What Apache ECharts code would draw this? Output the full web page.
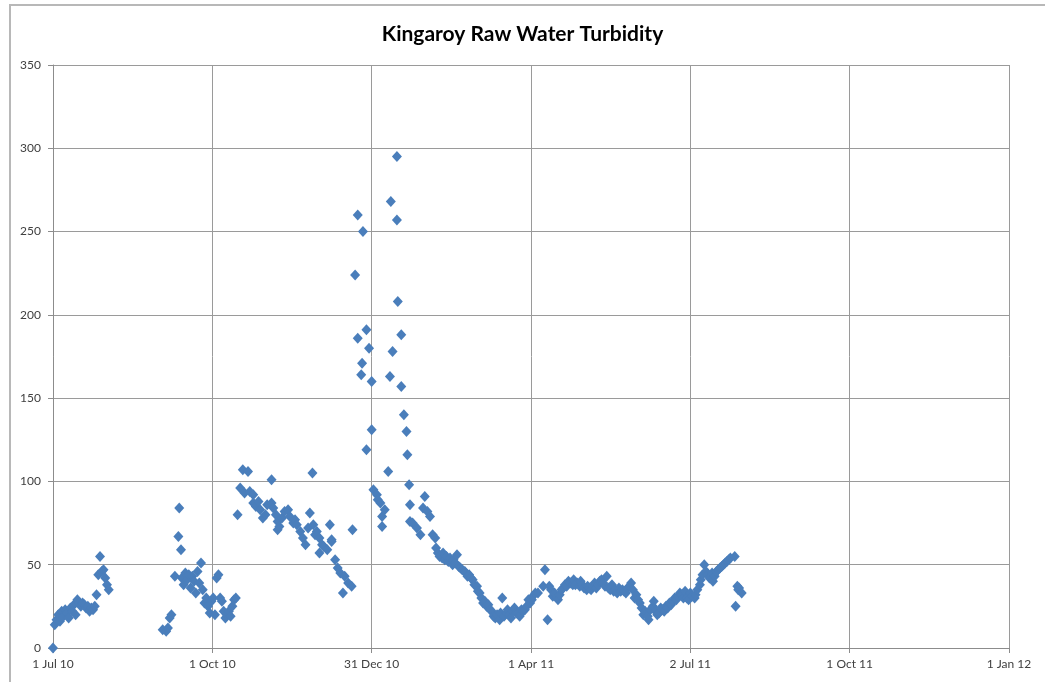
<!DOCTYPE html>
<html>
<head>
<meta charset="utf-8">
<script src="https://cdn.jsdelivr.net/npm/echarts@6/dist/echarts.min.js"></script>
<style>
html,body{margin:0;padding:0;background:#fff;}
#chart{width:1045px;height:682px;}
</style>
</head>
<body>
<div id="chart"></div>
<script>
// Days since 1 Jul 2010 and raw water turbidity (NTU)
const days = [
  0,1,2,3,4,5,6,7,8,9,10,11,12,13,14,15,16,17,18,19,20,21,22,23,24,25,26,27,28,29,30,31,32,
  63,65,66,67,68,70,72,72.5,73.5,74,75,76,77,78,79,80,81,82,83,84,85,86,87,88,89,90,91,92,93,94,95,96,97,98,99,100,101,102,103,104,105,
  106,107.5,109,110,112,113,115,115,116.5,118,119,120.5,122,123,125.5,125.5,126.5,128,129,129,130,131.5,133,135,136,138,139,140,142,143.5,145,146.5,147.5,149,149.5,150.5,151.5,153,153,154.5,155.5,157.5,159,160,160,162,163.5,165,166.5,167.5,169.5,171.5,172,
  173.5,175,175,177,177.5,178,180,180,181.5,183,183,184,186,186.5,188,189,189,190.5,192.5,193.5,194,195,197.5,197.5,198,200,200,201.5,203,203.5,204.5,205,205,
  206.5,209,211,212.5,213.5,215,216.5,218,219.5,220,221,222,223.5,224,225,226,227,228,229.5,230,231,232,233,234,235,236.5,237,238,239,240,241,242,243.5,244,245,246,247,248,249,250,251,252,253,254,255,256.5,257,258,259,260.5,261,262,263,264,265,266,267,268,269,270,271,272,273,274,275,275.5,277,278.5,281.5,282.5,
  284,285,286,287,288,289.5,290,291,292,293,294,295,296,297,298.5,299,300,301,302.5,303,304,305,306.5,307,308,309,310,311,312,313,314,315,316,317,318,319,320,321,322,323,324,325,326,327,328,329,330,331,332,333,334,335,336,337,338,339,340,341.5,342,343,344.5,345,346,347,348,349,350,351,352,353,354,355,356,357,358,359,360,361,362,363,364,365,366,367,368.5,369,370,371.5,372,373,374,375,376,377,378.5,379,380,381,382,383,384,385,386,387,388,389,391.5,392,393,393.5,394,395.5
];
const turbidity = [
  0,14,17,20,16,22,19,23,21,18,24,22,26,20,29,27,25,27,26,24,25,22,24,23,25,32,44,55,46,47,42,38,35,
  11,10,12,18,20,43,67,84,59,42,38,45,41,44,36,43,40,33,46,39,51,35,27,30,25,21,28,30,20,42,44,30,28,22,18,20,22,19,25,29,30,
  80,96,107,93,106,94,92,87,85,88,83,78,80,86,101,87,84,80,76,71,73,78,82,83,79,75,77,74,70,66,62,72,81,105,74,68,70,66,57,62,61,59,74,64,65,53,48,45,33,43,39,37,71,
  224,260,186,164,171,250,191,119,180,160,131,95,92,89,87,73,79,83,106,163,268,178,295,257,208,188,157,140,130,116,98,86,76,
  75,72,68,84,91,82,79,68,66,60,57,55,54,57,53,55,52,54,50,53,51,56,49,48,47,46,45,43,44,42,41,38,37,34,33,30,27,28,25,26,23,22,19,18,20,17,21,30,19,21,23,20,18,22,24,21,21,19,23,22,23,25,29,27,29,31,33,33,37,47,17,
  37,35,31,33,30,29,32,35,36,38,37,40,39,38,41,38,39,37,40,38,36,35,37,36,35,37,39,36,38,40,41,39,37,43,36,35,38,34,35,33,36,34,35,34,33,36,37,39,35,30,32,29,27,24,20,22,19,17,23,25,28,22,20,21,24,23,22,25,24,27,26,28,30,29,31,33,32,30,34,30,29,33,31,30,32,35,38,41,44,50,46,44,42,45,40,43,46,47,48,49,50,51,52,53,54,55,25,37,35,36,33,32
];
const xTickLabels = ['1 Jul 10','1 Oct 10','31 Dec 10','1 Apr 11','2 Jul 11','1 Oct 11','1 Jan 12'];
const yTicks = [0,50,100,150,200,250,300,350];

const points = days.map((d,i)=>[d, turbidity[i]]);
const chart = echarts.init(document.getElementById('chart'), null, {renderer:'canvas'});
const labelFont = {color:'#404040', fontFamily:'Lato, "Open Sans", sans-serif', fontSize:12};
chart.setOption({
  animation:false,
  backgroundColor:'#ffffff',
  graphic:[{
    type:'rect', shape:{x:10,y:5,width:1200,height:900},
    style:{fill:'none', stroke:'#b8b8b8', lineWidth:2}, silent:true
  }],
  title:{
    text:'Kingaroy Raw Water Turbidity',
    left:'center', top:19,
    textStyle:{fontFamily:'Lato, "Open Sans", sans-serif', fontWeight:'bold', fontSize:21, color:'#000'}
  },
  grid:{left:53, right:36, top:65, bottom:34, containLabel:false},
  xAxis:{
    type:'value', min:0, max:549, interval:91.5,
    axisLine:{show:true, lineStyle:{color:'#8c8c8c', width:1}},
    axisTick:{show:true, inside:false, length:5, lineStyle:{color:'#8c8c8c'}},
    splitLine:{show:true, lineStyle:{color:'#9a9a9a', width:1}},
    axisLabel:Object.assign({margin:10, formatter:function(v){
      const i = Math.round(v/91.5); return xTickLabels[i] || '';
    }}, labelFont)
  },
  yAxis:{
    type:'value', min:yTicks[0], max:yTicks[yTicks.length-1], interval:50,
    axisLine:{show:true, lineStyle:{color:'#8c8c8c', width:1}},
    axisTick:{show:true, inside:false, length:5, lineStyle:{color:'#8c8c8c'}},
    splitLine:{show:true, lineStyle:{color:'#9a9a9a', width:1}},
    axisLabel:Object.assign({margin:12}, labelFont)
  },
  series:[{
    type:'scatter', symbol:'diamond', symbolSize:[10,11],
    itemStyle:{color:'#4A7EBB', opacity:1},
    data:points
  }]
});
</script>
</body>
</html>
